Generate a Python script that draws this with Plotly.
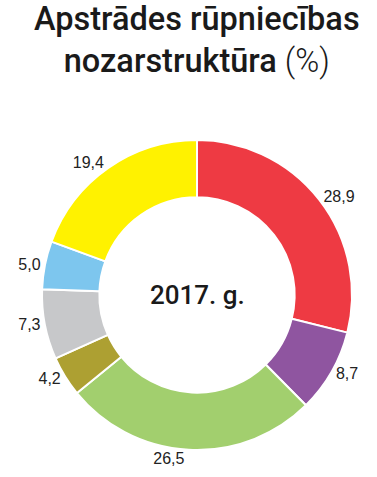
import plotly.graph_objects as go

categories = ["A", "B", "C", "D", "E", "F", "G"]
values = [28.9, 8.7, 26.5, 4.2, 7.3, 5.0, 19.4]
colors = ["#EE3A43", "#8F55A0", "#A2CF6E", "#ADA032", "#C7C8CA", "#7DC6EE", "#FFF200"]
title_main_1 = "Apstrādes rūpniecības"
title_main_2 = "nozarstruktūra"
title_unit = "(%)"
center_text = "2017. g."

W, H = 377, 477
cx, cy, r = 197, 295, 155

fig = go.Figure(go.Pie(
    labels=categories,
    values=values,
    sort=False,
    direction="clockwise",
    rotation=0,
    hole=0.63,
    marker=dict(colors=colors, line=dict(color="white", width=2)),
    texttemplate="%{value:.1f}",
    textposition="outside",
    textfont=dict(family="Liberation Sans, Arial", size=16, color="#222222"),
    showlegend=False,
    hoverinfo="skip",
    domain=dict(x=[(cx - r) / W, (cx + r) / W], y=[(H - cy - r) / H, (H - cy + r) / H]),
))

fig.update_layout(
    width=W, height=H,
    margin=dict(l=0, r=0, t=0, b=0),
    paper_bgcolor="white",
    separators=", ",
    annotations=[
        dict(text=title_main_1 + "<br>" + title_main_2 +
                  ' <span style="font-weight:300">' + title_unit + "</span>",
             x=197 / W, y=1.005, xref="paper", yref="paper", xanchor="center", yanchor="top",
             showarrow=False, align="center",
             font=dict(family="Roboto, Liberation Sans, Arial", size=32.5, weight=500, color="#1a1a1a")),
        dict(text=center_text, x=cx / W, y=(H - cy) / H, xref="paper", yref="paper",
             xanchor="center", yanchor="middle", showarrow=False,
             font=dict(family="Roboto, Liberation Sans, Arial", size=26, weight=500, color="#1a1a1a")),
    ],
)

fig.write_html("out.html", config={"displayModeBar": False},
               post_script="document.body.style.margin='0px';")
